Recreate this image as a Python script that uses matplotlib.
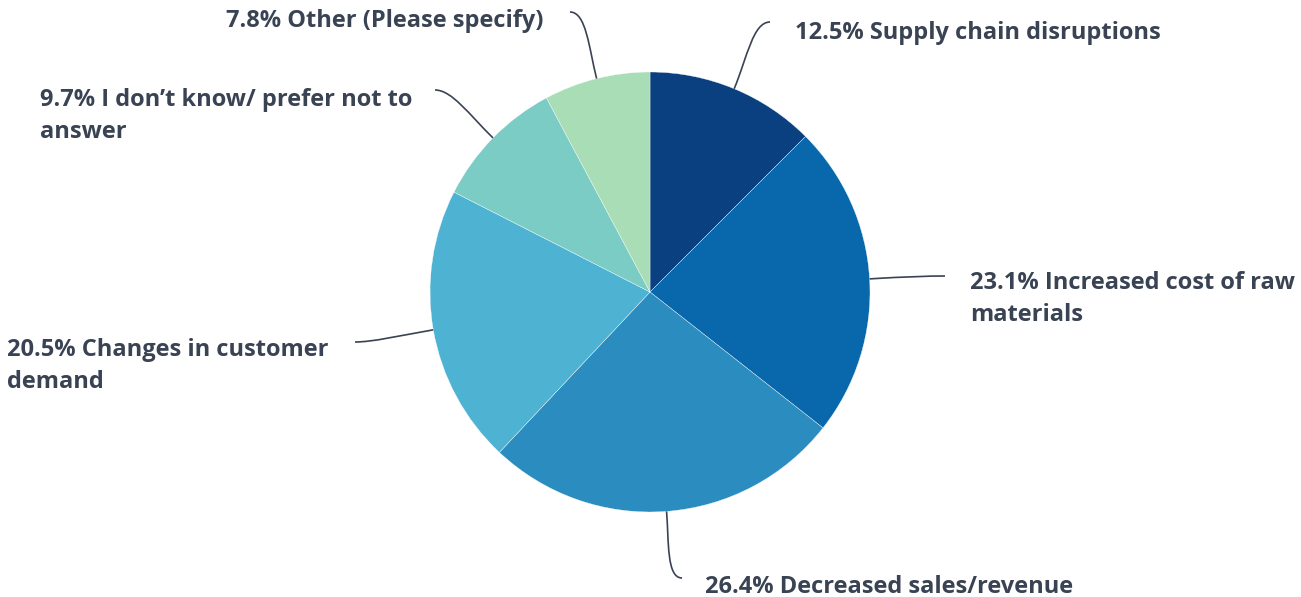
import numpy as np
import matplotlib.pyplot as plt
from matplotlib.path import Path
from matplotlib.patches import PathPatch

labels = [
    "Supply chain disruptions",
    "Increased cost of raw\nmaterials",
    "Decreased sales/revenue",
    "Changes in customer\ndemand",
    "I don\u2019t know/ prefer not to\nanswer",
    "Other (Please specify)",
]
shares = [12.5, 23.1, 26.4, 20.5, 9.7, 7.8]
colors = ["#0a3f80", "#0868ab", "#2b8dbf", "#4eb3d3", "#7bccc4", "#a8ddb5"]

# leader-line end points and first-line label anchors (pixel space, y down)
line_ends = [(770, 22), (945, 276), (682, 578), (355, 342), (435, 90), (570, 12)]
text_pos = [(795, 33), (970, 283), (705, 587), (7, 350), (40, 100), (543, 21)]
text_ha = ["left", "left", "left", "left", "left", "right"]

W, H = 1301, 597
cx, cy, R = 650, 292, 220
ink = "#394353"
FAMILY = ["Open Sans", "DejaVu Sans"]
FS = 15.5
LINE_GAP = 32  # px between text lines

fig = plt.figure(figsize=(W / 100, H / 100), dpi=100)
ax = fig.add_axes([0, 0, 1, 1])
ax.set_xlim(0, W)
ax.set_ylim(0, H)
ax.set_aspect("equal")
ax.axis("off")

wedges, _ = ax.pie(shares, colors=colors, startangle=90, counterclock=False,
                   radius=R, center=(cx, H - cy),
                   wedgeprops=dict(edgecolor="white", linewidth=0.25))
ax.set_xlim(0, W)
ax.set_ylim(0, H)

# scale the label font so the single-line label spans its set width
probe = fig.text(0, 0, "12.5% Supply chain disruptions", fontsize=FS,
                 fontweight="bold", family=FAMILY)
fig.canvas.draw()
wpx = probe.get_window_extent().width
probe.remove()
FS = FS * 365.0 / wpx

for w, (ex, ey), (tx, ty), ha, lab, val in zip(wedges, line_ends, text_pos,
                                                 text_ha, labels, shares):
    mid = np.deg2rad((w.theta1 + w.theta2) / 2)
    dx, dy = np.cos(mid), np.sin(mid)
    p0 = (cx + R * dx, H - cy + R * dy)
    p3 = (ex, H - ey)
    d = np.hypot(p3[0] - p0[0], p3[1] - p0[1])
    k = 0.45 * d
    p1 = (p0[0] + dx * k, p0[1] + dy * k)
    sgn = 1 if p3[0] > p0[0] else -1
    p2 = (p3[0] - sgn * k * 0.5, p3[1])
    path = Path([p0, p1, p2, p3],
                [Path.MOVETO, Path.CURVE4, Path.CURVE4, Path.CURVE4])
    ax.add_patch(PathPatch(path, fill=False, edgecolor=ink, linewidth=1.2))
    for i, line in enumerate(f"{val}% {lab}".split("\n")):
        ax.text(tx, H - ty - i * LINE_GAP, line, ha=ha, va="center",
                fontsize=FS, fontweight="bold", color=ink, family=FAMILY)

fig.savefig("out.png", dpi=100, facecolor="white")
